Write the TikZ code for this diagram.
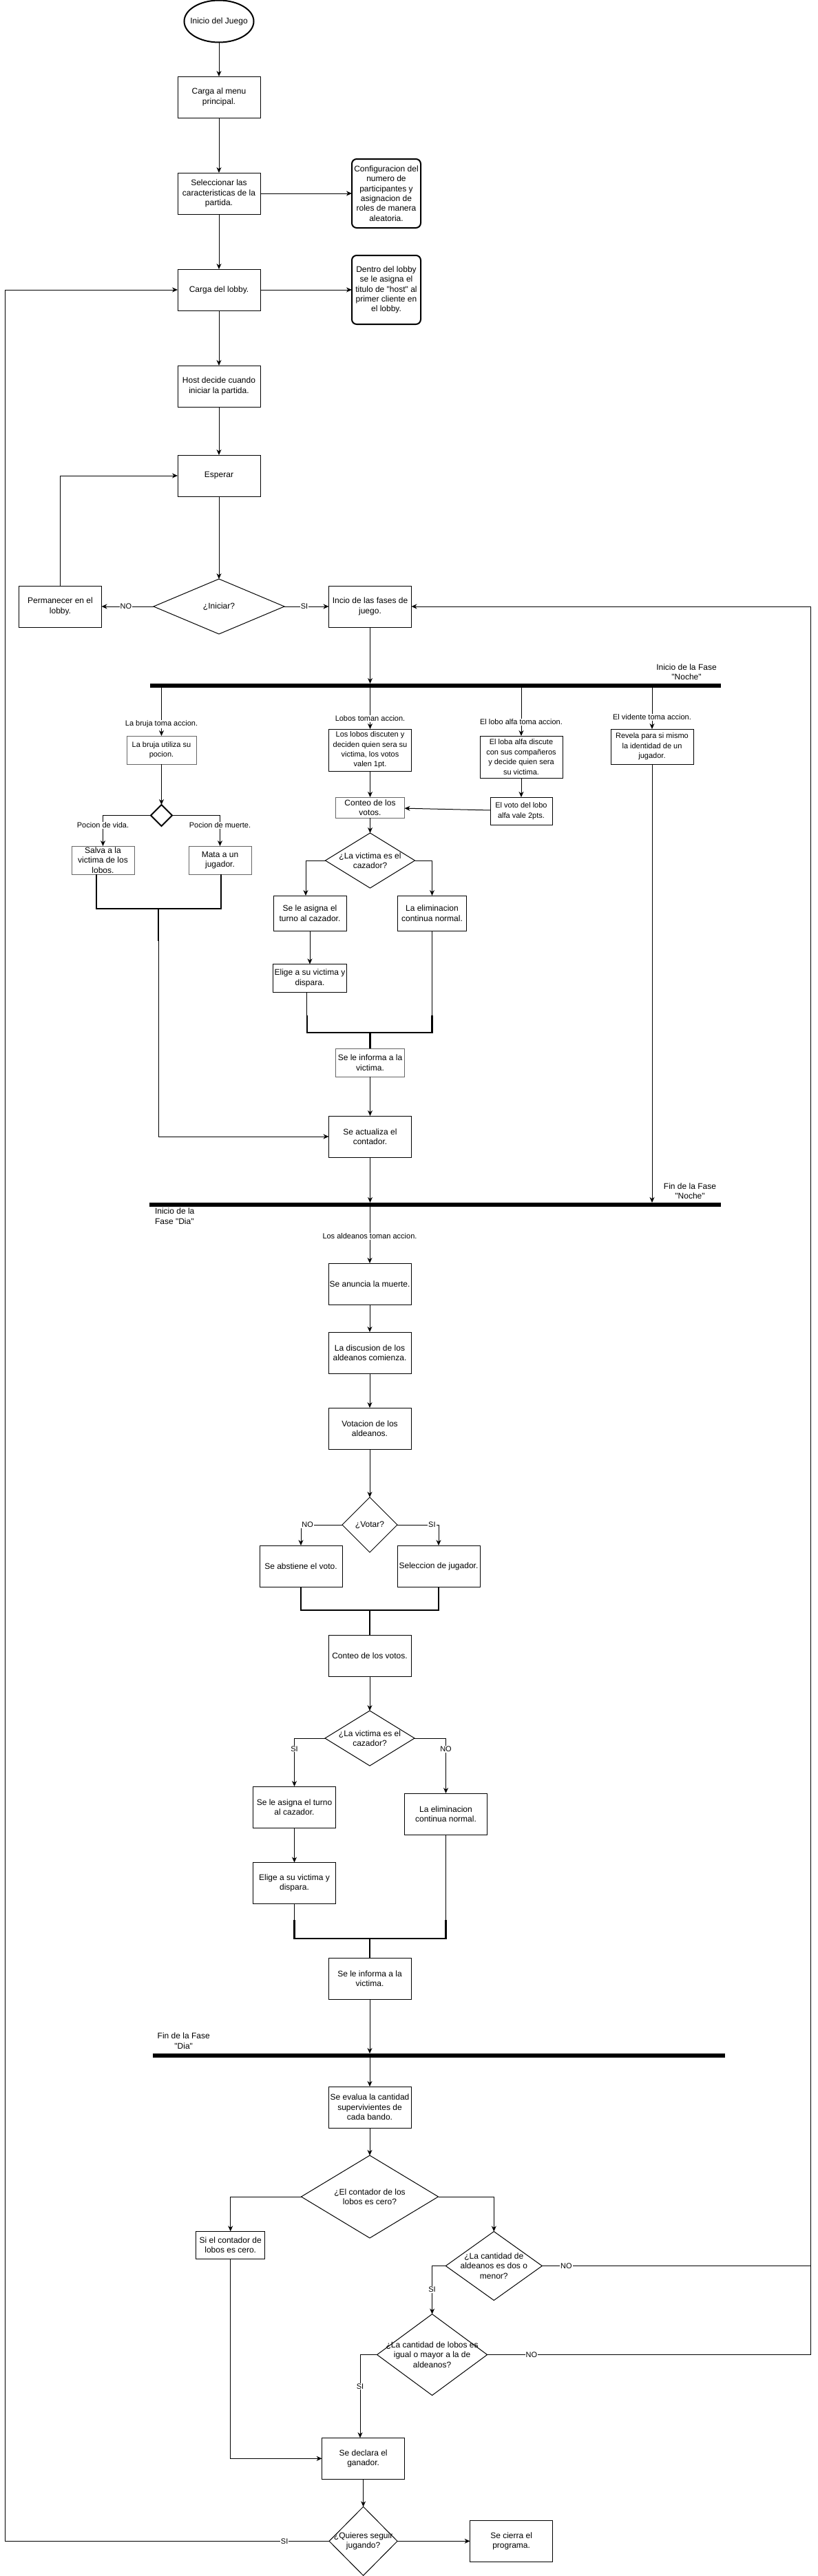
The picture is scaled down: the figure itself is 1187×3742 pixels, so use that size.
\documentclass[tikz,border=0pt]{standalone}
\usepackage{fontspec}
\setmainfont{Liberation Sans}[Ligatures=TeXOff]
\usetikzlibrary{shapes.geometric,arrows.meta}
\begin{document}
\begin{tikzpicture}[x=1pt,y=-1pt,
  every node/.style={inner sep=0pt,outer sep=0pt},
  tx/.style={font=\fontsize{12}{14.4}\selectfont},
  sm/.style={font=\fontsize{11}{14.4}\selectfont},
  box/.style={draw,rectangle,line width=1pt,align=center,tx,minimum width=120,minimum height=60},
  gbox/.style={box,draw=black!60},
  rbox/.style={box,rounded corners=7pt,line width=2pt,minimum width=100,minimum height=100},
  dia/.style={draw,diamond,line width=1pt},
  dt/.style={align=center,tx},
  bar/.style={rectangle,fill=black,minimum height=6},
  arr/.style={line width=1pt,-{Stealth[length=8pt,width=7pt,inset=2.5pt]}},
  ln/.style={line width=1pt},
  tk/.style={line width=2.2pt},
  elab/.style={fill=white,font=\fontsize{11}{13.2}\selectfont,inner sep=1pt},
  blab/.style={align=center,tx}
]
\useasboundingbox (0,0) rectangle (1187,3742);

% ---------- top part ----------
\node[draw,ellipse,line width=2pt,minimum width=101,minimum height=61,label={[dt]center:Inicio del Juego}] (start) at (318,31) {};
\node[box] (menu) at (318,141) {Carga al menu\\principal.};
\node[box] (sel) at (318,281) {Seleccionar las\\caracteristicas de la\\partida.};
\node[rbox] (conf) at (561,281) {Configuracion del\\numero de\\participantes y\\asignacion de\\roles de manera\\aleatoria.};
\node[box] (lobby) at (318,421) {Carga del lobby.};
\node[rbox] (dentro) at (561,421) {Dentro del lobby\\se le asigna el\\titulo de "host" al\\primer cliente en\\el lobby.};
\node[box] (host) at (318,561) {Host decide cuando\\iniciar la partida.};
\node[box] (esperar) at (318,691) {Esperar};
\node[dia,minimum width=190,minimum height=80,label={[dt]center:¿Iniciar?}] (iniciar) at (318,881) {};
\node[box] (perm) at (87.5,881) {Permanecer en el\\lobby.};
\node[box] (fases) at (537.5,881) {Incio de las fases de\\juego.};

\draw[arr] (start) -- (menu);
\draw[arr] (menu) -- (sel);
\draw[arr] (sel) -- (lobby);
\draw[arr] (lobby) -- (host);
\draw[arr] (host) -- (esperar);
\draw[arr] (esperar) -- (iniciar);
\draw[arr] (sel) -- (conf);
\draw[arr] (lobby) -- (dentro);
\draw[arr] (iniciar) -- node[elab,pos=0.53]{NO} (perm);
\draw[arr] (iniciar) -- node[elab,pos=0.45]{SI} (fases);
\draw[arr] (perm.north) |- (esperar.west);

% ---------- night ----------
\node[bar,minimum width=829] (nb) at (632.5,996) {};
\node[blab] (nbl) at (997,976) {Inicio de la Fase\\"Noche"};
\draw[arr] (fases) -- (fases.south |- nb.north);

% witch
\node[gbox,sm,minimum width=101,minimum height=41] (bruja) at (234.5,1089.5) {La bruja utiliza su\\pocion.};
\draw[arr] (bruja.north |- nb.south) -- node[elab,pos=0.757]{La bruja toma accion.} (bruja.north);
\node[dia,line width=2pt,minimum width=31,minimum height=31] (pot) at (234.5,1184.5) {};
\draw[arr] (bruja) -- (pot);
\node[gbox,minimum width=91,minimum height=41] (salva) at (149.5,1249.5) {Salva a la\\victima de los\\lobos.};
\node[gbox,minimum width=91,minimum height=41] (mata) at (319.5,1249.5) {Mata a un\\jugador.};
\draw[arr] (pot.west) -| node[elab,pos=0.66]{Pocion de vida.} (salva.north);
\draw[arr] (pot.east) -| node[elab,pos=0.66]{Pocion de muerte.} (mata.north);
\coordinate (bj) at (230,1320);
\coordinate (bj2) at (230,1367);
\draw[tk] ([xshift=-9.5pt]salva.south) |- (bj) -| ([xshift=1.5pt]mata.south);
\draw[tk] (bj) -- (bj2);

% wolves
\node[box,sm,minimum width=120,minimum height=61] (lobos) at (537.5,1089.5) {Los lobos discuten y\\deciden quien sera su\\victima, los votos\\valen 1pt.};
\draw[arr] (lobos.north |- nb.south) -- node[elab,pos=0.75]{Lobos toman accion.} (lobos.north);
\node[gbox,minimum width=100,minimum height=30] (conteoN) at (537.5,1173) {Conteo de los\\votos.};
\draw[arr] (lobos) -- (conteoN);
\node[dia,minimum width=130,minimum height=80,label={[dt]center:{¿La victima es el\\cazador?}}] (victN) at (537.5,1250) {};
\draw[arr] (conteoN) -- (victN);
\node[box,minimum width=106,minimum height=51] (asignaN) at (450,1326.5) {Se le asigna el\\turno al cazador.};
\node[box,minimum width=100,minimum height=51] (elimN) at (627.5,1326.5) {La eliminacion\\continua normal.};
\draw[arr] (victN.west) -| ([xshift=-6pt]asignaN.north);
\draw[arr] (victN.east) -| (elimN.north);
\node[box,minimum width=107,minimum height=41] (eligeN) at (450,1421) {Elige a su victima y\\dispara.};
\draw[arr] (asignaN) -- (eligeN);
\node[gbox,minimum width=100,minimum height=41] (informaN) at (537.5,1543.5) {Se le informa a la\\victima.};
\coordinate (mnl) at (445.7,1500);
\coordinate (mnr) at (627.5,1500);
\coordinate (mn) at (537.5,1500);
\draw[ln] ([xshift=-4.3pt]eligeN.south) -- ([yshift=25pt]mnl);
\draw[ln] (elimN.south) -- ([yshift=25pt]mnr);
\draw[tk] ([yshift=25pt]mnl) -- (mnl) -- (mnr) -- ([yshift=25pt]mnr);
\draw[tk] (mn) -- (informaN.north);
\node[box] (actualiza) at (537.5,1651) {Se actualiza el\\contador.};
\draw[arr] (informaN) -- (actualiza);
\draw[arr] (bj2) |- (actualiza.west);

% alpha wolf
\node[box,sm,minimum width=120,minimum height=61] (alfa) at (757,1099.5) {El loba alfa discute\\con sus compañeros\\y decide quien sera\\su victima.};
\draw[arr] (alfa.north |- nb.south) -- node[elab,pos=0.714]{El lobo alfa toma accion.} (alfa.north);
\node[box,sm,minimum width=90,minimum height=40] (voto) at (757,1178) {El voto del lobo\\alfa vale 2pts.};
\draw[arr] (alfa) -- (voto);
\draw[arr] (voto) -- (conteoN);

% seer
\node[box,sm,minimum width=120,minimum height=51] (vid) at (947,1084.5) {Revela para si mismo\\la identidad de un\\jugador.};
\draw[arr] (vid.north |- nb.south) -- node[elab,pos=0.717]{El vidente toma accion.} (vid.north);

% ---------- day ----------
\node[bar,minimum width=830] (db) at (632,1750) {};
\draw[arr] (vid.south) -- (vid.south |- db.north);
\draw[arr] (actualiza) -- (actualiza.south |- db.north);
\node[blab] (dbl1) at (1002,1730) {Fin de la Fase\\"Noche"};
\node[tx,anchor=north west,align=left] (dbl2) at (225,1755) {Inicio de la\\Fase "Dia"};

\node[box] (anuncia) at (537,1865) {Se anuncia la muerte.};
\draw[arr] (anuncia.north |- db.south) -- node[elab,pos=0.52]{Los aldeanos toman accion.} (anuncia.north);
\node[box] (discusion) at (537,1965) {La discusion de los\\aldeanos comienza.};
\node[box] (votacion) at (537,2075) {Votacion de los\\aldeanos.};
\node[dia,minimum width=80,minimum height=80,label={[dt]center:¿Votar?}] (votar) at (537,2215) {};
\node[box] (abst) at (437,2275) {Se abstiene el voto.};
\node[box] (selec) at (637,2275) {Seleccion de jugador.};
\draw[arr] (anuncia) -- (discusion);
\draw[arr] (discusion) -- (votacion);
\draw[arr] (votacion) -- (votar);
\draw[arr] (votar.west) -| node[elab,pos=0.42]{NO} (abst.north);
\draw[arr] (votar.east) -| node[elab,pos=0.42]{SI} (selec.north);

\node[box] (conteoD) at (537,2405) {Conteo de los votos.};
\coordinate (md) at (537,2339);
\draw[tk] (abst.south) |- (md) -| (selec.south);
\draw[tk] (md) -- (conteoD.north);
\node[dia,minimum width=130,minimum height=80,label={[dt]center:{¿La victima es el\\cazador?}}] (victD) at (537,2525) {};
\draw[arr] (conteoD) -- (victD);
\node[box] (asignaD) at (427.5,2625) {Se le asigna el turno\\al cazador.};
\node[box] (elimD) at (647.5,2635) {La eliminacion\\continua normal.};
\draw[arr] (victD.west) -| node[elab,pos=0.61]{SI} (asignaD.north);
\draw[arr] (victD.east) -| node[elab,pos=0.6]{NO} (elimD.north);
\node[box] (eligeD) at (427.5,2735.5) {Elige a su victima y\\dispara.};
\draw[arr] (asignaD) -- (eligeD);
\node[box] (informaD) at (537,2874) {Se le informa a la\\victima.};
\coordinate (md2l) at (427.5,2816);
\coordinate (md2r) at (647.5,2816);
\coordinate (md2) at (537,2816);
\draw[ln] (eligeD.south) -- ([yshift=27pt]md2l);
\draw[ln] (elimD.south) -- ([yshift=27pt]md2r);
\draw[tk] ([yshift=27pt]md2l) -- (md2l) -- (md2r) -- ([yshift=27pt]md2r);
\draw[tk] (md2) -- (informaD.north);

% ---------- end of day ----------
\node[bar,minimum width=831] (fb) at (637.4,2986) {};
\draw[arr] (informaD) -- (informaD.south |- fb.north);
\node[blab] (fbl) at (266.7,2964.5) {Fin de la Fase\\"Dia"};
\node[box] (evalua) at (537,3061) {Se evalua la cantidad\\supervivientes de\\cada bando.};
\draw[arr] (evalua.north |- fb.south) -- (evalua.north);
\node[dia,minimum width=199,minimum height=120,label={[dt]center:{¿El contador de los\\lobos es cero?}}] (cero) at (537,3191) {};
\draw[arr] (evalua) -- (cero);
\node[box,minimum width=100,minimum height=40] (sicero) at (334.7,3261.3) {Si el contador de\\lobos es cero.};
\draw[arr] (cero.west) -| (sicero.north);
\node[dia,minimum width=140,minimum height=100,label={[dt]center:{¿La cantidad de\\aldeanos es dos o\\menor?}}] (ald) at (717.3,3291.5) {};
\draw[arr] (cero.east) -| (ald.north);
\node[dia,minimum width=160,minimum height=118,label={[dt]center:{¿La cantidad de lobos es\\igual o mayor a la de\\aldeanos?}}] (mayor) at (627.6,3420.5) {};
\draw[arr] (ald.west) -| node[elab,pos=0.745]{SI} (mayor.north);
\coordinate (rl) at (1177,881);
\draw[ln] (ald.east) -- node[elab,pos=0.09]{NO} (ald.east -| rl);
\draw[arr] (mayor.east) -- node[elab,pos=0.137]{NO} (mayor.east -| rl) -- (rl) -- (fases.east);
\node[box] (ganador) at (527.6,3571.3) {Se declara el\\ganador.};
\draw[arr] (mayor.west) -| node[elab,pos=0.69]{SI} ([xshift=-4.6pt]ganador.north);
\draw[arr] (sicero.south) |- (ganador.west);
\node[dia,minimum width=99,minimum height=100,label={[dt]center:{¿Quieres seguir\\jugando?}}] (quieres) at (527.6,3691.3) {};
\draw[arr] (ganador) -- (quieres);
\node[box] (cierra) at (742.6,3691.3) {Se cierra el\\programa.};
\draw[arr] (quieres) -- (cierra);
\coordinate (ll) at (7.6,421);
\draw[arr] (quieres.west) -- node[elab,pos=0.138]{SI} (quieres.west -| ll) -- (ll) -- (lobby.west);
\end{tikzpicture}
\end{document}
